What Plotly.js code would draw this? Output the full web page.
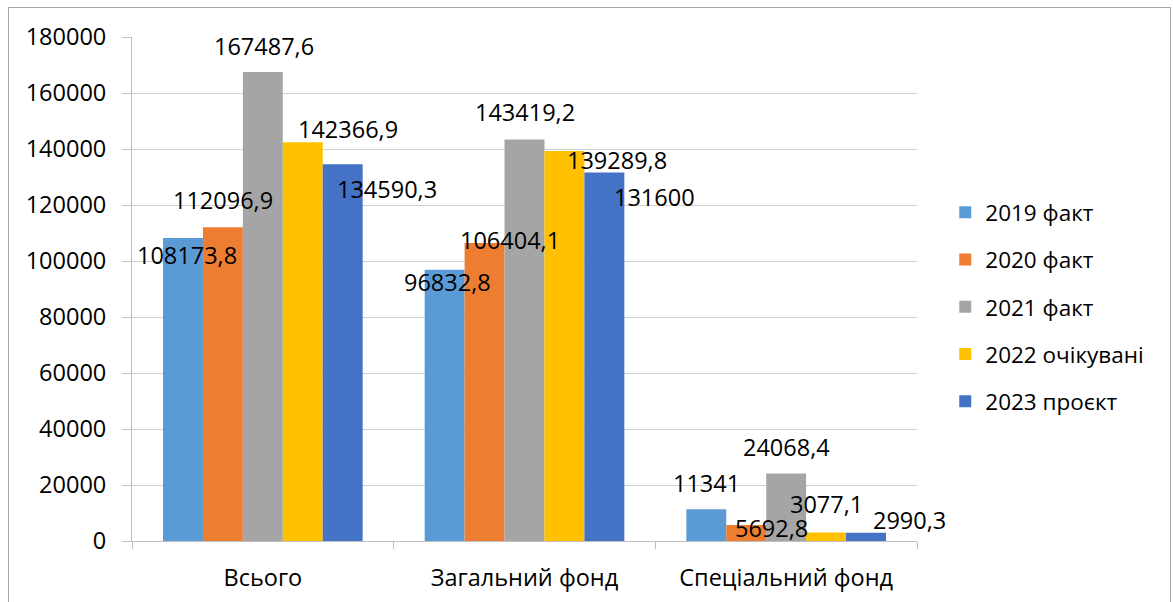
<!DOCTYPE html>
<html>
<head>
<meta charset="utf-8">
<script src="https://cdn.plot.ly/plotly-3.0.1.min.js"></script>
<style>
  html, body { margin: 0; padding: 0; background: #fff; overflow: hidden; }
  #frame { position: absolute; left: 8px; top: 7px; width: 1163px; height: 620px; border: 1.5px solid #a6a6a6; box-sizing: border-box; pointer-events: none; }
  #chart { position: absolute; left: 0; top: 0; width: 1173px; height: 602px; }
</style>
</head>
<body>
<div id="chart"></div>
<div id="frame"></div>
<script>
// ---- data ----
const categories = ["Всього", "Загальний фонд", "Спеціальний фонд"];
const seriesNames = ["2019 факт", "2020 факт", "2021 факт", "2022 очікувані", "2023 проєкт"];
const v2019 = [108173.8, 96832.8, 11341];
const v2020 = [112096.9, 106404.1, 5692.8];
const v2021 = [167487.6, 143419.2, 24068.4];
const v2022 = [142366.9, 139289.8, 3077.1];
const v2023 = [134590.3, 131600, 2990.3];
const labels2019 = ["108173,8", "96832,8", "11341"];
const labels2020 = ["112096,9", "106404,1", "5692,8"];
const labels2021 = ["167487,6", "143419,2", "24068,4"];
const labels2022 = ["142366,9", "139289,8", "3077,1"];
const labels2023 = ["134590,3", "131600", "2990,3"];
const yTicks = [0, 20000, 40000, 60000, 80000, 100000, 120000, 140000, 160000, 180000];

// ---- styles ----
const colors = ["#5B9BD5", "#ED7D31", "#A5A5A5", "#FFC000", "#4472C4"];
const FONT = "Open Sans, sans-serif";
const FS = 23.5;
const bargap = 0.237;
// label offsets (pixels) relative to each bar's top centre, per series then per category
const labelDX = [[4, 3, 0], [0, 25, 25], [1, 0, 0], [45, 53, 0], [44, 50, 43]];
const labelDY = [[-17, -12, 26], [27, 3, -3], [26, 27, 27], [13, -9, 28], [-25, -24, 13]];

const allValues = [v2019, v2020, v2021, v2022, v2023];
const allLabels = [labels2019, labels2020, labels2021, labels2022, labels2023];

const traces = allValues.map((vals, i) => ({
  type: "bar",
  name: seriesNames[i],
  x: categories.map((c, k) => k),
  y: vals,
  marker: { color: colors[i] },
  legendgroup: "g" + i,
  hoverinfo: "none"
}));

const barW = (1 - bargap) / 5;
const annotations = [];
allValues.forEach((vals, i) => {
  vals.forEach((v, k) => {
    annotations.push({
      x: k + (i - 2) * barW,
      y: v,
      xref: "x", yref: "y",
      text: allLabels[i][k],
      showarrow: false,
      xanchor: "center", yanchor: "middle",
      xshift: labelDX[i][k],
      yshift: labelDY[i][k],
      font: { family: FONT, size: FS, color: "#000" }
    });
  });
});

const layout = {
  width: 1173, height: 602,
  margin: { l: 132, r: 256, t: 37, b: 61 },
  paper_bgcolor: "#fff", plot_bgcolor: "#fff",
  barmode: "group",
  bargap: bargap,
  bargroupgap: 0,
  font: { family: FONT, size: FS, color: "#000" },
  showlegend: true,
  legend: {
    x: 1.036, xanchor: "left", y: 0.464, yanchor: "middle",
    font: { family: FONT, size: 22.5, color: "#000" },
    tracegroupgap: 15,
    traceorder: "grouped"
  },
  xaxis: {
    type: "linear",
    range: [-0.5, 2.5],
    tickmode: "array",
    tickvals: [0, 1, 2],
    ticktext: categories,
    showgrid: false,
    zeroline: false,
    showline: true, linecolor: "#bfbfbf", linewidth: 1,
    ticks: "",
    ticklabelstandoff: 16,
    tickfont: { family: FONT, size: FS, color: "#000" },
    fixedrange: true
  },
  xaxis2: {
    overlaying: "x", matches: "x", range: [-0.5, 2.5], type: "linear",
    tickmode: "array", tickvals: [-0.5, 0.5, 1.5, 2.5],
    ticks: "outside", ticklen: 7, tickcolor: "#bfbfbf", showticklabels: false,
    showgrid: false, zeroline: false, showline: false, anchor: "y"
  },
  yaxis: {
    range: [0, 180000],
    tickmode: "array",
    tickvals: yTicks,
    ticktext: yTicks.map(String),
    showgrid: true, gridcolor: "#d0d0d0", gridwidth: 1,
    zeroline: false,
    showline: true, linecolor: "#bfbfbf", linewidth: 1,
    ticks: "outside", ticklen: 9, tickcolor: "#bfbfbf",
    ticklabelstandoff: 11,
    tickfont: { family: FONT, size: FS, color: "#000" },
    fixedrange: true
  },
  annotations: annotations
};

// invisible helper trace so the boundary tick axis is drawn
traces.push({ type: "scatter", x: [0], y: [0], xaxis: "x2", yaxis: "y", mode: "markers", marker: { opacity: 0 }, showlegend: false, hoverinfo: "none" });

Plotly.newPlot("chart", traces, layout, { displayModeBar: false, staticPlot: true });
</script>
</body>
</html>
